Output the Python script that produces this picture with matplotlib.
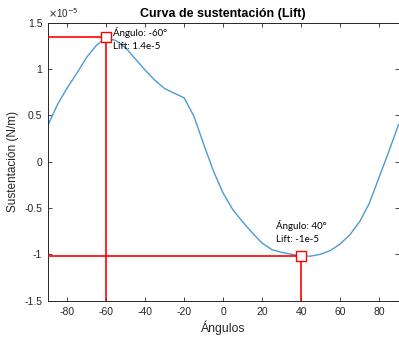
import numpy as np
import matplotlib
matplotlib.use("Agg")
import matplotlib.pyplot as plt
from matplotlib.ticker import FuncFormatter

# angulo (grados) y sustentacion (en unidades de 1e-5 N/m)
angulos = [-90, -85, -80, -75, -70, -65, -60, -55, -50, -45, -40, -35, -30,
           -25, -20, -15, -10, -5, 0, 5, 10, 15, 20, 25, 30, 35, 40, 45, 50,
           55, 60, 65, 70, 75, 80, 85, 90]
lift_e5 = [0.39, 0.62, 0.80, 0.96, 1.13, 1.26, 1.34, 1.31, 1.23, 1.11, 0.99,
           0.88, 0.79, 0.74, 0.69, 0.49, 0.19, -0.10, -0.34, -0.52, -0.65,
           -0.77, -0.88, -0.95, -0.98, -1.00, -1.02, -1.02, -1.00, -0.96,
           -0.89, -0.79, -0.65, -0.45, -0.17, 0.11, 0.40]

# puntos marcados (data tips)
tip_ang = [-60, 40]
tip_lift_e5 = [1.35, -1.02]
tip_txt = [["Ángulo: -60°", "Lift: 1.4e-5"], ["Ángulo: 40°", "Lift: -1e-5"]]
tip_off = [(7, 4), (-25, 31)]

xticks = [-80, -60, -40, -20, 0, 20, 40, 60, 80]
yticks_e5 = [-1.5, -1, -0.5, 0, 0.5, 1, 1.5]

plt.rcParams['font.family'] = ['Liberation Sans', 'DejaVu Sans']
gray = '#262626'

fig = plt.figure(figsize=(3.99, 3.37), dpi=100)
ax = fig.add_axes([0.1198, 0.1083, 0.8790, 0.8235])

x = np.array(angulos)
y = np.array(lift_e5) * 1e-5
ax.plot(x, y, color='#4a9bd5', lw=1.0, zorder=2)

ymin = -1.5e-5
for a, l in zip(tip_ang, tip_lift_e5):
    ax.plot([-90, a], [l * 1e-5, l * 1e-5], color='red', lw=1.2, zorder=3)
    ax.plot([a, a], [ymin, l * 1e-5], color='red', lw=1.2, zorder=3)
    ax.plot([a], [l * 1e-5], marker='s', ms=6.5, mfc='white', mec='red',
            mew=1.0, zorder=4)

for a, l, t, off in zip(tip_ang, tip_lift_e5, tip_txt, tip_off):
    ax.annotate(t[0], (a, l * 1e-5), xytext=(off[0], off[1]),
                textcoords='offset pixels', fontsize=7, family='Lato',
                va='center', ha='left', color='black', zorder=5)
    ax.annotate(t[1], (a, l * 1e-5), xytext=(off[0], off[1] - 14),
                textcoords='offset pixels', fontsize=7, family='Lato',
                va='center', ha='left', color='black', zorder=5)

ax.set_xlim(-90, 90)
ax.set_ylim(-1.5e-5, 1.5e-5)
ax.set_xticks(xticks)
ax.set_yticks([v * 1e-5 for v in yticks_e5])
ax.xaxis.set_major_formatter(FuncFormatter(lambda v, p: "%g" % v))
ax.yaxis.set_major_formatter(FuncFormatter(lambda v, p: "%g" % round(v / 1e-5, 2)))
ax.tick_params(direction='in', length=3, width=0.6, colors=gray,
               labelsize=7.5, top=True, right=True)
ax.tick_params(axis='x', pad=5)
ax.tick_params(axis='y', pad=4)
for s in ax.spines.values():
    s.set_color(gray)
    s.set_linewidth(0.7)

ax.text(0.0, 1.012, r"$\times$10$^{-5}$", transform=ax.transAxes,
        fontsize=7, color=gray, ha='left', va='bottom')

ax.set_title("Curva de sustentación (Lift)", fontsize=9, fontweight='bold',
             pad=4)
ax.set_xlabel("Ángulos", fontsize=8.8, color=gray, labelpad=2)
ax.set_ylabel("Sustentación (N/m)", fontsize=8.5, color=gray, labelpad=4)

fig.savefig("out.png", dpi=100)
